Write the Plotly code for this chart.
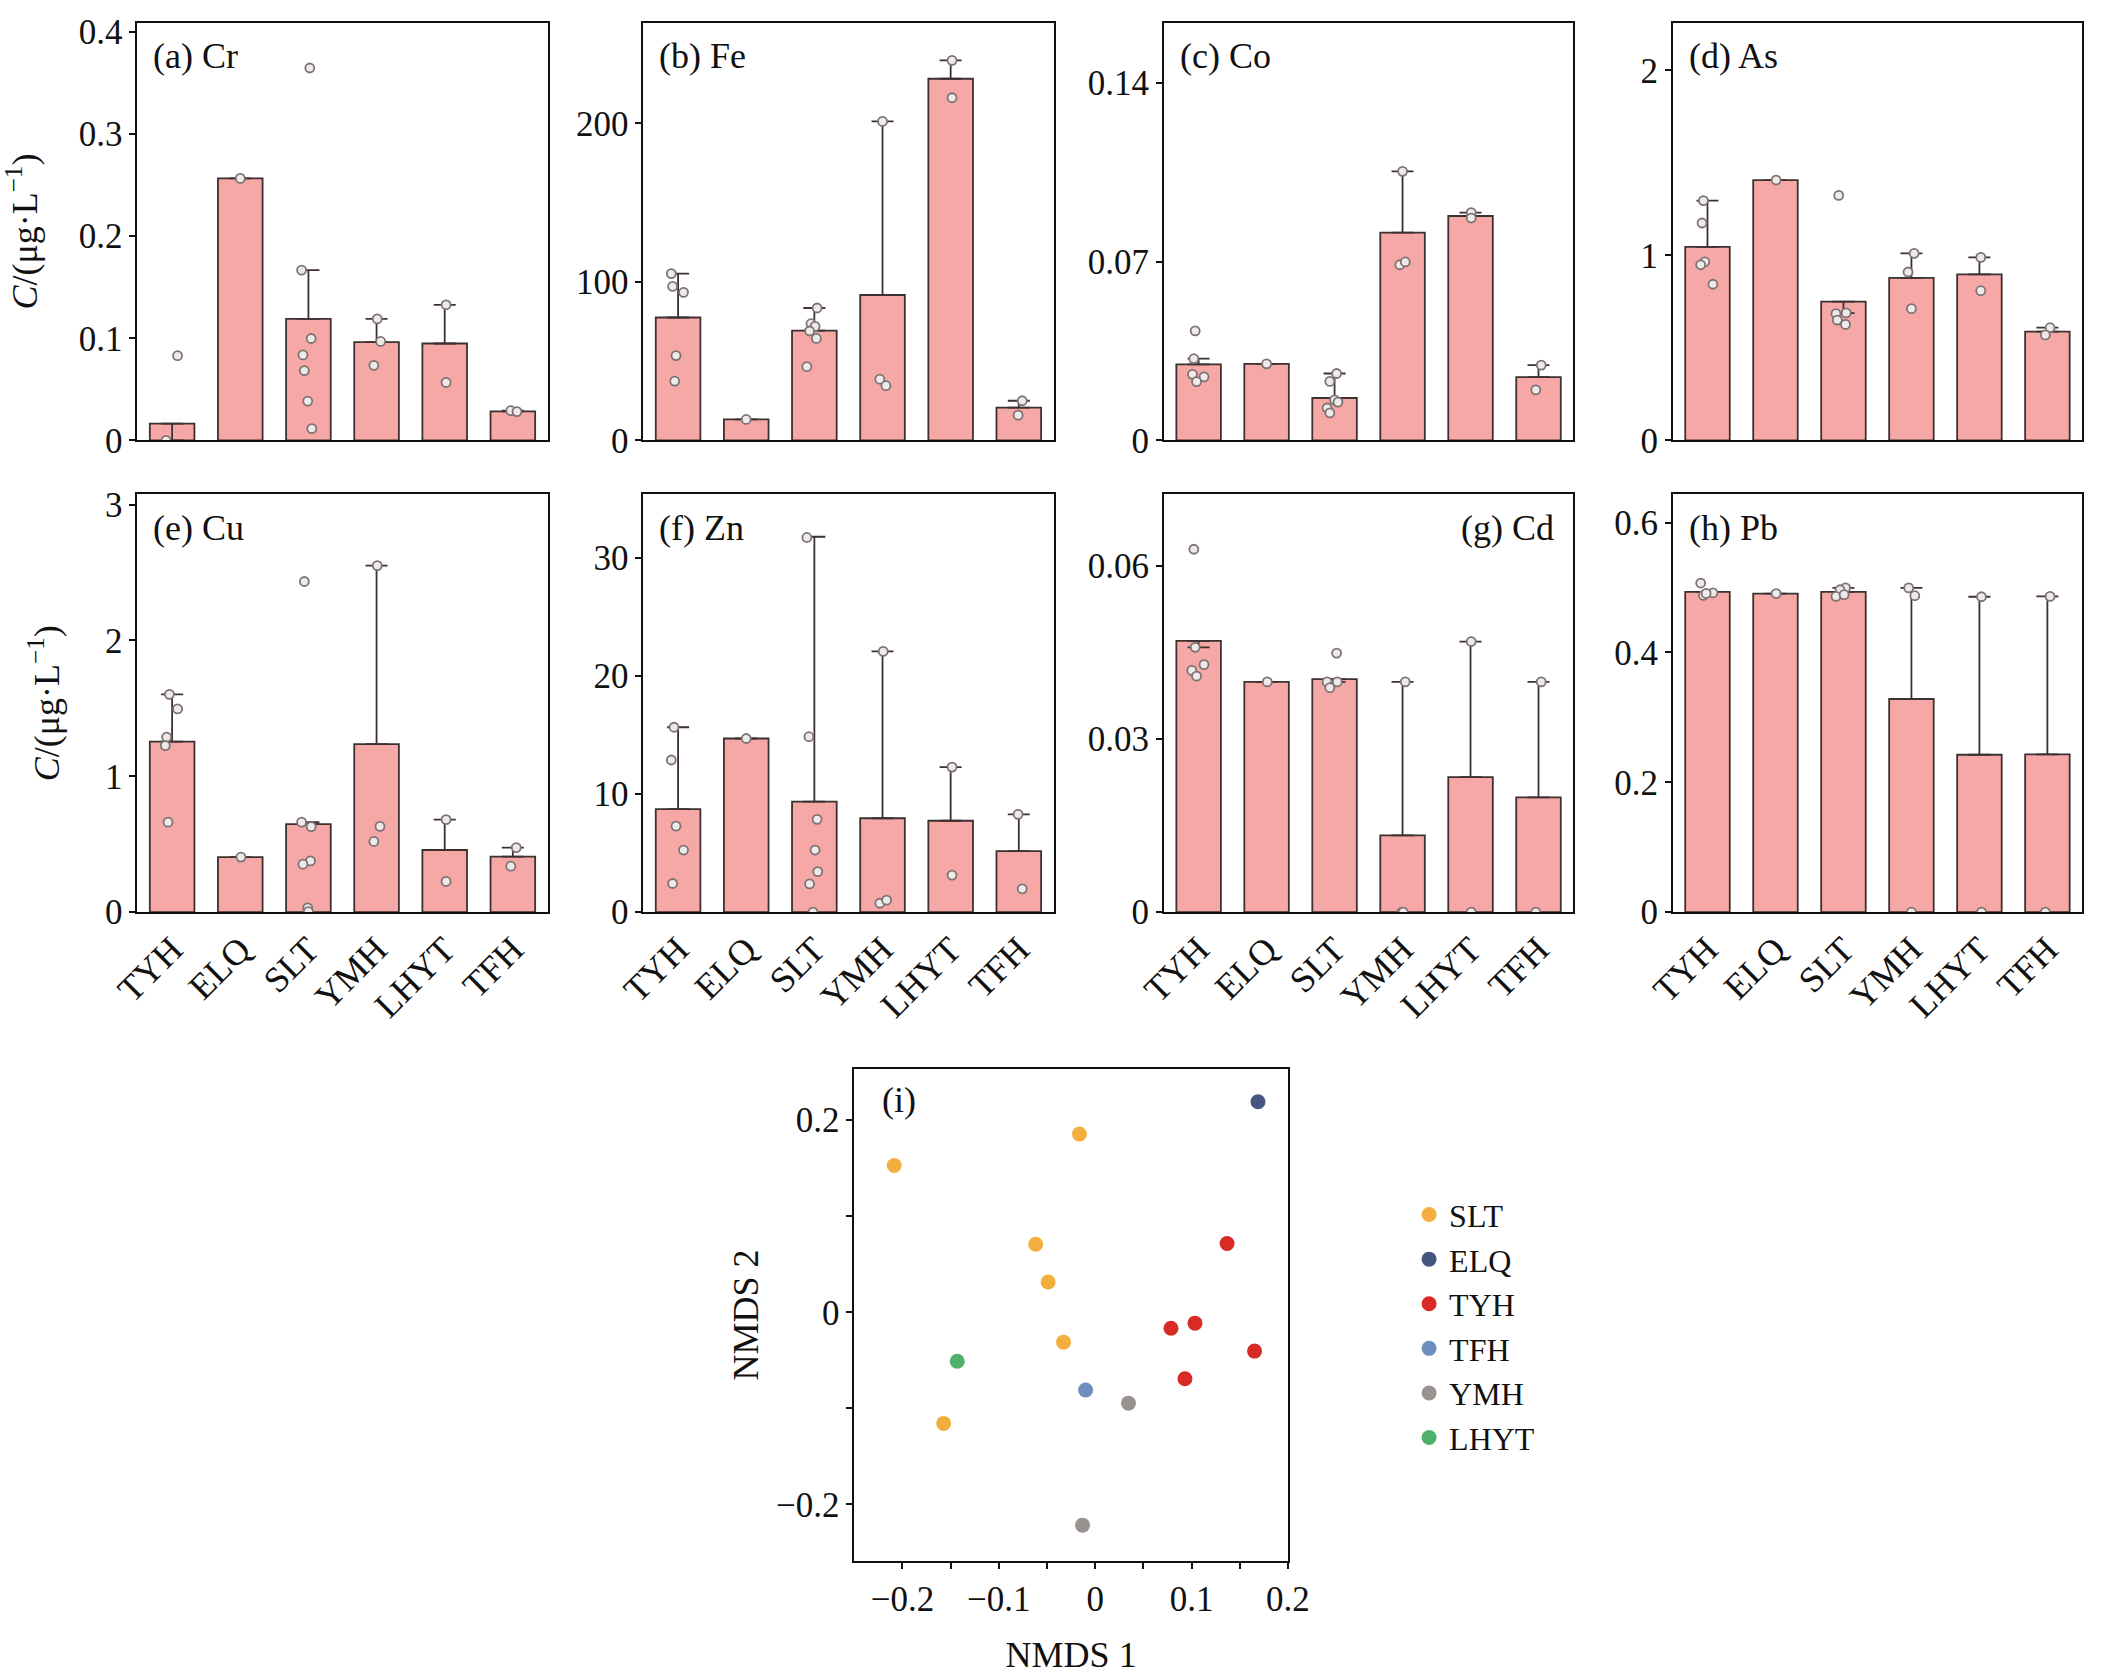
import plotly.graph_objects as go

W, H = 2107, 1675
FONT = "Liberation Serif"

sites = ["TYH", "ELQ", "SLT", "YMH", "LHYT", "TFH"]

# ---------------- (a) Cr ----------------
cr_mean = [0.0164, 0.2566, 0.119, 0.0962, 0.0949, 0.0285]
cr_err_end = [0.0, 0.2566, 0.1668, 0.119, 0.1328, 0.0292]
cr_pts = [[0.083, 0.0], [0.2566], [0.3647, 0.1668, 0.0998, 0.0837, 0.0683, 0.0385, 0.0115],
          [0.119, 0.0969, 0.0735], [0.1328, 0.0568], [0.0292, 0.0282]]
cr_ticks = [0, 0.1, 0.2, 0.3, 0.4]
cr_ticktext = ["0", "0.1", "0.2", "0.3", "0.4"]

# ---------------- (b) Fe ----------------
fe_mean = [77.5, 13.2, 69.2, 91.7, 228.1, 20.7]
fe_err_end = [105.2, 13.2, 83.5, 201.2, 239.7, 25.0]
fe_pts = [[105.2, 97.1, 93.4, 53.5, 37.4], [13.2], [83.5, 73.6, 71.9, 69.0, 64.3, 46.5],
          [201.2, 38.6, 34.5], [239.7, 216.1], [25.0, 15.9]]
fe_ticks = [0, 100, 200]
fe_ticktext = ["0", "100", "200"]

# ---------------- (c) Co ----------------
co_mean = [0.0298, 0.0300, 0.0166, 0.0814, 0.0879, 0.0248]
co_err_end = [0.0320, 0.0300, 0.0262, 0.1054, 0.0892, 0.0295]
co_pts = [[0.0429, 0.0320, 0.0259, 0.0249, 0.0230], [0.0300],
          [0.0262, 0.0231, 0.0159, 0.0150, 0.0127, 0.0108],
          [0.1054, 0.0688, 0.0699], [0.0892, 0.0871], [0.0295, 0.0198]]
co_ticks = [0, 0.07, 0.14]
co_ticktext = ["0", "0.07", "0.14"]

# ---------------- (d) As ----------------
as_mean = [1.046, 1.407, 0.750, 0.878, 0.897, 0.588]
as_err_end = [1.296, 1.407, 0.688, 1.011, 0.989, 0.609]
as_pts = [[1.296, 1.175, 0.965, 0.949, 0.844], [1.407], [1.324, 0.685, 0.689, 0.650, 0.627],
          [1.011, 0.910, 0.712], [0.989, 0.809], [0.609, 0.570]]
as_ticks = [0, 1, 2]
as_ticktext = ["0", "1", "2"]

# ---------------- (e) Cu ----------------
cu_mean = [1.2545, 0.405, 0.647, 1.236, 0.457, 0.408]
cu_err_end = [1.603, 0.405, 0.662, 2.551, 0.681, 0.475]
cu_pts = [[1.603, 1.496, 1.288, 1.226, 0.662], [0.405],
          [2.434, 0.662, 0.629, 0.377, 0.353, 0.031, 0.004],
          [2.551, 0.631, 0.520], [0.681, 0.226], [0.475, 0.338]]
cu_ticks = [0, 1, 2, 3]
cu_ticktext = ["0", "1", "2", "3"]

# ---------------- (f) Zn ----------------
zn_mean = [8.72, 14.69, 9.34, 7.94, 7.73, 5.16]
zn_err_end = [15.64, 14.69, 31.76, 22.06, 12.27, 8.27]
zn_pts = [[15.64, 12.87, 7.28, 5.25, 2.42], [14.69],
          [31.70, 14.84, 7.85, 5.25, 3.43, 2.39, 0.0],
          [22.06, 0.75, 1.01], [12.27, 3.13], [8.27, 1.97]]
zn_ticks = [0, 10, 20, 30]
zn_ticktext = ["0", "10", "20", "30"]

# ---------------- (g) Cd ----------------
cd_mean = [0.0470, 0.0399, 0.0404, 0.0133, 0.0234, 0.0199]
cd_err_end = [0.0459, 0.0399, 0.0399, 0.0399, 0.0469, 0.0399]
cd_pts = [[0.0629, 0.0459, 0.0429, 0.0419, 0.0409], [0.0399],
          [0.0449, 0.0399, 0.0399, 0.0389],
          [0.0399, 0.0, 0.0], [0.0469, 0.0], [0.0399, 0.0]]
cd_ticks = [0, 0.03, 0.06]
cd_ticktext = ["0", "0.03", "0.06"]

# ---------------- (h) Pb ----------------
pb_mean = [0.4935, 0.4908, 0.4935, 0.3283, 0.2424, 0.2429]
pb_err_end = [0.4935, 0.4908, 0.4995, 0.4995, 0.4859, 0.4864]
pb_pts = [[0.507, 0.488, 0.492, 0.491], [0.4908], [0.4995, 0.4967, 0.4864, 0.4891],
          [0.4995, 0.4875, 0.0], [0.4859, 0.0], [0.4864, 0.0]]
pb_ticks = [0, 0.2, 0.4, 0.6]
pb_ticktext = ["0", "0.2", "0.4", "0.6"]

# ---------------- (i) NMDS ----------------
nmds_groups = ["SLT", "ELQ", "TYH", "TFH", "YMH", "LHYT"]
nmds_x = [[-0.0164, -0.2086, -0.0618, -0.0489, -0.0329, -0.1573],
          [0.1689],
          [0.1368, 0.0786, 0.1035, 0.1653, 0.0931],
          [-0.010],
          [0.0345, -0.0132],
          [-0.1432]]
nmds_y = [[0.1856, 0.1529, 0.0708, 0.0315, -0.0311, -0.1157],
          [0.2192],
          [0.0716, -0.0166, -0.0113, -0.0404, -0.0692],
          [-0.0809],
          [-0.0946, -0.2216],
          [-0.051]]

# ---------------- layout / style (not data) ----------------
# horizontal jitter of the individual points
cr_jit = [[0.08, -0.09], [0.0], [0.02, -0.10, 0.04, -0.08, -0.06, -0.01, 0.05], [0.01, 0.06, -0.04], [0.02, 0.02], [-0.03, 0.06]]
fe_jit = [[-0.10, -0.08, 0.08, -0.03, -0.05], [0.0], [0.04, -0.05, 0.01, -0.07, 0.03, -0.11], [0.0, -0.04, 0.05], [0.02, 0.02], [0.05, -0.01]]
co_jit = [[-0.05, -0.07, -0.09, 0.08, -0.03], [0.0], [0.03, -0.07, 0.0, 0.05, -0.11, -0.07], [0.0, -0.04, 0.04], [0.01, 0.01], [0.04, -0.04]]
as_jit = [[-0.06, -0.08, -0.04, -0.10, 0.08], [0.01], [-0.07, -0.11, 0.04, -0.09, 0.03], [0.04, -0.05, 0.0], [0.02, 0.02], [0.04, -0.03]]
cu_jit = [[-0.04, 0.08, -0.08, -0.10, -0.06], [0.01], [-0.06, -0.10, 0.04, 0.03, -0.08, -0.01, 0.0], [0.01, 0.05, -0.04], [0.02, 0.02], [0.05, -0.03]]
zn_jit = [[-0.06, -0.10, -0.03, 0.08, -0.08], [0.0], [-0.11, -0.08, 0.04, 0.01, 0.05, -0.07, -0.02], [0.01, -0.04, 0.06], [0.02, 0.02], [-0.01, 0.05]]
cd_jit = [[-0.07, -0.05, 0.08, -0.10, -0.03], [0.01], [0.03, -0.11, 0.04, -0.07], [0.04, -0.01, 0.01], [0.01, 0.01], [0.04, -0.04]]
pb_jit = [[-0.10, -0.06, 0.08, -0.02], [0.01], [0.03, -0.05, -0.11, 0.01], [-0.04, 0.05, 0.0], [0.03, 0.03], [0.04, -0.03]]

panels = [
    ("(a) Cr", cr_mean, cr_err_end, cr_pts, cr_jit, 0.409, cr_ticks, cr_ticktext, "left"),
    ("(b) Fe", fe_mean, fe_err_end, fe_pts, fe_jit, 263.4, fe_ticks, fe_ticktext, "left"),
    ("(c) Co", co_mean, co_err_end, co_pts, co_jit, 0.1636, co_ticks, co_ticktext, "left"),
    ("(d) As", as_mean, as_err_end, as_pts, as_jit, 2.257, as_ticks, as_ticktext, "left"),
    ("(e) Cu", cu_mean, cu_err_end, cu_pts, cu_jit, 3.075, cu_ticks, cu_ticktext, "left"),
    ("(f) Zn", zn_mean, zn_err_end, zn_pts, zn_jit, 35.34, zn_ticks, zn_ticktext, "left"),
    ("(g) Cd", cd_mean, cd_err_end, cd_pts, cd_jit, 0.0724, cd_ticks, cd_ticktext, "right"),
    ("(h) Pb", pb_mean, pb_err_end, pb_pts, pb_jit, 0.6435, pb_ticks, pb_ticktext, "left"),
]

col_px = [(113, 533), (631, 1051), (1164, 1583), (1685, 2104)]
row_px = [(14, 439), (494, 919)]

BAR_FILL = "#F5A8A6"
BAR_LINE = "#3d3030"
PT_FILL = "#eeeaea"
PT_LINE = "#7e7272"
AXCOL = "#111111"
TICK_FS = 35
LABEL_FS = 36

def xdom(a, b):
    return [a / W, b / W]

def ydom(top, bottom):
    return [1 - bottom / H, 1 - top / H]

fig = go.Figure()
layout = dict(
    width=W, height=H, margin=dict(l=0, r=0, t=0, b=0),
    paper_bgcolor="white", plot_bgcolor="white",
    font=dict(family=FONT, size=TICK_FS, color="#111111"),
    showlegend=True,
)
annotations = []

ytitle = "<i>C</i>/(μg·L<sup>−1</sup>)"

for k, (label, mean, err_end, pts, jit, ymax, ticks, ticktext, lpos) in enumerate(panels):
    r, c = divmod(k, 4)
    n = k + 1
    xa = "x" if n == 1 else f"x{n}"
    ya = "y" if n == 1 else f"y{n}"
    plus = [max(e - m, 0) for e, m in zip(err_end, mean)]
    minus = [max(m - e, 0) for e, m in zip(err_end, mean)]
    xs = list(range(len(sites)))
    fig.add_trace(go.Bar(
        x=xs, y=mean, width=0.655, xaxis=xa, yaxis=ya, showlegend=False,
        marker=dict(color=BAR_FILL, line=dict(color=BAR_LINE, width=1.8)),
        error_y=dict(type="data", symmetric=False, array=plus, arrayminus=minus,
                     color=BAR_LINE, thickness=1.8, width=11),
    ))
    px_, py_ = [], []
    for i, (vals, js) in enumerate(zip(pts, jit)):
        for v, j in zip(vals, js):
            px_.append(i + j)
            py_.append(v)
    fig.add_trace(go.Scatter(
        x=px_, y=py_, mode="markers", xaxis=xa, yaxis=ya, showlegend=False,
        marker=dict(size=9, color=PT_FILL, line=dict(color=PT_LINE, width=1.8)),
    ))
    xk = "xaxis" if n == 1 else f"xaxis{n}"
    yk = "yaxis" if n == 1 else f"yaxis{n}"
    layout[xk] = dict(
        domain=xdom(*col_px[c]), anchor=ya, range=[-0.51, 5.51],
        tickmode="array", tickvals=xs, ticktext=sites, showticklabels=(r == 1),
        tickangle=-45, ticks="", showline=True, mirror=True, linecolor=AXCOL,
        linewidth=1.8, showgrid=False, zeroline=False,
        tickfont=dict(family=FONT, size=LABEL_FS),
    )
    yax = dict(
        domain=ydom(*row_px[r]), anchor=xa, range=[0, ymax], autorange=False,
        tickmode="array", tickvals=ticks, ticktext=ticktext,
        ticks="outside", ticklen=6, tickwidth=1.8, tickcolor=AXCOL,
        showline=True, mirror=True, linecolor=AXCOL, linewidth=1.8,
        showgrid=False, zeroline=False, tickfont=dict(family=FONT, size=TICK_FS),
    )
    if c == 0:
        yax["title"] = dict(text=ytitle, font=dict(family=FONT, size=36), standoff=34)
    layout[yk] = yax
    if lpos == "left":
        annotations.append(dict(text=label, xref=f"{xa} domain", yref=f"{ya} domain",
                                x=0.034, y=0.92, xanchor="left", yanchor="middle",
                                showarrow=False, font=dict(family=FONT, size=LABEL_FS)))
    else:
        annotations.append(dict(text=label, xref=f"{xa} domain", yref=f"{ya} domain",
                                x=0.958, y=0.92, xanchor="right", yanchor="middle",
                                showarrow=False, font=dict(family=FONT, size=LABEL_FS)))

# ---------------- NMDS panel ----------------
nmds_colors = ["#F4AE3D", "#46577F", "#D92B26", "#6D8FBE", "#9A9191", "#4EB06B"]
for g, xv, yv, col in zip(nmds_groups, nmds_x, nmds_y, nmds_colors):
    fig.add_trace(go.Scatter(
        x=xv, y=yv, mode="markers", name=g, xaxis="x9", yaxis="y9",
        marker=dict(size=15, color=col),
    ))

layout["xaxis9"] = dict(
    domain=xdom(847, 1291), anchor="y9", range=[-0.25, 0.2], autorange=False,
    tickmode="array", tickvals=[-0.2, -0.1, 0, 0.1, 0.2],
    ticktext=["−0.2", "−0.1", "0", "0.1", "0.2"],
    ticks="outside", ticklen=6, tickwidth=1.8, tickcolor=AXCOL,
    minor=dict(tickmode="array", tickvals=[-0.15, -0.05, 0.05, 0.15], ticks="outside",
               ticklen=6, tickwidth=1.8, tickcolor=AXCOL, showgrid=False),
    showline=True, mirror=True, linecolor=AXCOL, linewidth=1.8,
    showgrid=False, zeroline=False, tickfont=dict(family=FONT, size=TICK_FS),
    title=dict(text="NMDS 1", font=dict(family=FONT, size=36), standoff=30),
)
layout["yaxis9"] = dict(
    domain=ydom(1079, 1579), anchor="x9", range=[-0.2586, 0.253], autorange=False,
    tickmode="array", tickvals=[-0.2, 0, 0.2], ticktext=["−0.2", "0", "0.2"],
    ticks="outside", ticklen=6, tickwidth=1.8, tickcolor=AXCOL,
    minor=dict(tickmode="array", tickvals=[-0.1, 0.1], ticks="outside",
               ticklen=6, tickwidth=1.8, tickcolor=AXCOL, showgrid=False),
    showline=True, mirror=True, linecolor=AXCOL, linewidth=1.8,
    showgrid=False, zeroline=False, tickfont=dict(family=FONT, size=TICK_FS),
    title=dict(text="NMDS 2", font=dict(family=FONT, size=36), standoff=6),
)
annotations.append(dict(text="(i)", xref="x9 domain", yref="y9 domain",
                        x=0.06, y=0.937, xanchor="left", yanchor="middle",
                        showarrow=False, font=dict(family=FONT, size=LABEL_FS)))

layout["legend"] = dict(
    x=1415 / W, y=1 - 1199 / H, xanchor="left", yanchor="top",
    font=dict(family=FONT, size=32, color="#111111"),
    bgcolor="rgba(0,0,0,0)", borderwidth=0, itemsizing="trace",
    tracegroupgap=0,
)
layout["annotations"] = annotations
fig.update_layout(**layout)

fig.write_html("out.html")
